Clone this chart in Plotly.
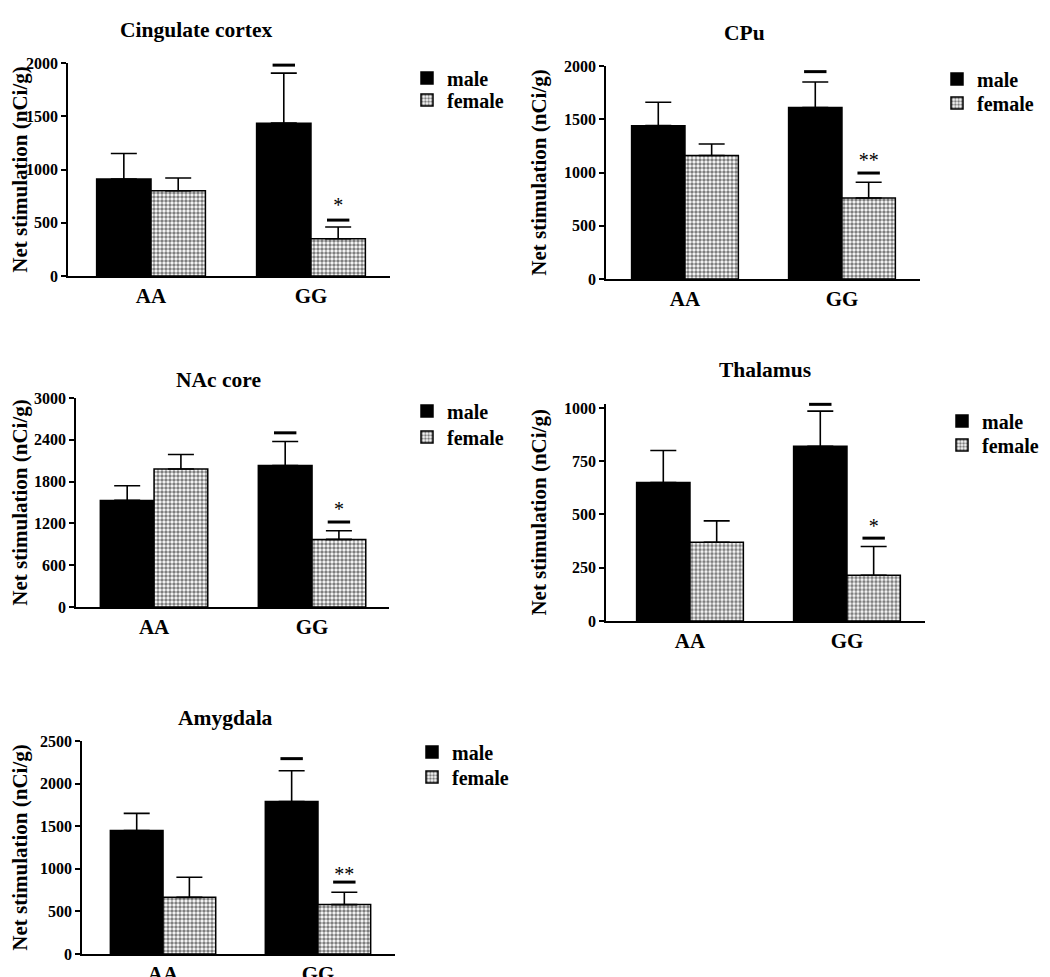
import plotly.graph_objects as go

genotypes = ["AA", "GG"]
series_names = ["male", "female"]

# Cingulate cortex
cing_male = [910, 1435]
cing_male_err = [240, 470]
cing_female = [800, 350]
cing_female_err = [120, 110]
cing_sig_male = 1980
cing_sig_female = 525
cing_star = "*"
cing_star_y = 645

# CPu
cpu_male = [1440, 1610]
cpu_male_err = [220, 240]
cpu_female = [1160, 760]
cpu_female_err = [108, 148]
cpu_sig_male = 1947
cpu_sig_female = 995
cpu_star = "**"
cpu_star_y = 1095

# NAc core
nac_male = [1530, 2030]
nac_male_err = [210, 345]
nac_female = [1980, 970]
nac_female_err = [210, 125]
nac_sig_male = 2500
nac_sig_female = 1220
nac_star = "*"
nac_star_y = 1385

# Thalamus
thal_male = [650, 820]
thal_male_err = [150, 165]
thal_female = [370, 215]
thal_female_err = [100, 135]
thal_sig_male = 1017
thal_sig_female = 389
thal_star = "*"
thal_star_y = 438

# Amygdala
amy_male = [1450, 1790]
amy_male_err = [200, 360]
amy_female = [665, 580]
amy_female_err = [235, 145]
amy_sig_male = 2293
amy_sig_female = 844
amy_star = "**"
amy_star_y = 912

# layout geometry (screen pixels of the reference)
panels = [
    dict(title="Cingulate cortex", male=cing_male, male_err=cing_male_err, female=cing_female,
         female_err=cing_female_err, sig_m=cing_sig_male, sig_f=cing_sig_female, star=cing_star,
         star_y=cing_star_y, ymax=2000, ytop=2000, dtick=500,
         px=(68, 390), py=(63, 276), xr=(-0.519, 1.494), title_x=0.398, title_shift=33,
         leg_x=427, leg_y=(78, 100)),
    dict(title="CPu", male=cpu_male, male_err=cpu_male_err, female=cpu_female,
         female_err=cpu_female_err, sig_m=cpu_sig_male, sig_f=cpu_sig_female, star=cpu_star,
         star_y=cpu_star_y, ymax=2000, ytop=2000, dtick=500,
         px=(606, 920), py=(66, 279), xr=(-0.503, 1.497), title_x=0.44, title_shift=33,
         leg_x=957, leg_y=(79, 103)),
    dict(title="NAc core", male=nac_male, male_err=nac_male_err, female=nac_female,
         female_err=nac_female_err, sig_m=nac_sig_male, sig_f=nac_sig_female, star=nac_star,
         star_y=nac_star_y, ymax=3000, ytop=3000, dtick=600,
         px=(76, 389), py=(398, 607), xr=(-0.494, 1.487), title_x=0.454, title_shift=18,
         leg_x=427, leg_y=(411, 437)),
    dict(title="Thalamus", male=thal_male, male_err=thal_male_err, female=thal_female,
         female_err=thal_female_err, sig_m=thal_sig_male, sig_f=thal_sig_female, star=thal_star,
         star_y=thal_star_y, ymax=1000, ytop=1020, dtick=250,
         px=(606, 925), py=(403.7, 621), xr=(-0.535, 1.497), title_x=0.498, title_shift=34,
         leg_x=962, leg_y=(421, 445)),
    dict(title="Amygdala", male=amy_male, male_err=amy_male_err, female=amy_female,
         female_err=amy_female_err, sig_m=amy_sig_male, sig_f=amy_sig_female, star=amy_star,
         star_y=amy_star_y, ymax=2500, ytop=2500, dtick=500,
         px=(82, 395), py=(741, 954), xr=(-0.523, 1.497), title_x=0.46, title_shift=23,
         leg_x=432, leg_y=(752, 777)),
]

W, H = 1050, 977
OFF = 8  # page body margin
FONT = "Liberation Serif"
BAR_W = 0.34
cat_idx = list(range(len(genotypes)))


def fx(px):
    return (px - OFF) / W


def fy(py):
    return 1 - (py - OFF) / H


fig = go.Figure()
layout = dict(
    width=W, height=H, margin=dict(l=0, r=0, t=0, b=0, autoexpand=False),
    paper_bgcolor="white", plot_bgcolor="white",
    font=dict(family=FONT, color="black"),
    barmode="overlay", showlegend=True,
)
annotations = []
leg_count = 0

for i, p in enumerate(panels):
    n = i + 1
    xa = "x" if n == 1 else f"x{n}"
    ya = "y" if n == 1 else f"y{n}"
    leg_ids = []
    for k in range(2):
        leg_count += 1
        leg_ids.append("legend" if leg_count == 1 else f"legend{leg_count}")
    xm = [c - BAR_W / 2 for c in cat_idx]
    xf = [c + BAR_W / 2 for c in cat_idx]

    fig.add_trace(go.Bar(
        x=xm, y=p["male"], width=BAR_W, name=series_names[0], xaxis=xa, yaxis=ya, legend=leg_ids[0],
        marker=dict(color="black", line=dict(color="black", width=1.5)),
        error_y=dict(type="data", array=p["male_err"], arrayminus=[0] * 2, symmetric=False,
                     color="black", thickness=1.6, width=13),
    ))
    fig.add_trace(go.Bar(
        x=xf, y=p["female"], width=BAR_W, name=series_names[1], xaxis=xa, yaxis=ya, legend=leg_ids[1],
        marker=dict(color="white", line=dict(color="black", width=1.5),
                    pattern=dict(shape=".", fgcolor="black", bgcolor="white", size=4, solidity=0.6,
                                 fillmode="overlay")),
        error_y=dict(type="data", array=p["female_err"], arrayminus=[0] * 2, symmetric=False,
                     color="black", thickness=1.6, width=13),
    ))
    # significance bars (GG only)
    fig.add_trace(go.Scatter(
        x=[xm[1], xf[1]], y=[p["sig_m"], p["sig_f"]], mode="markers", xaxis=xa, yaxis=ya,
        showlegend=False, cliponaxis=False, hoverinfo="skip",
        marker=dict(symbol="line-ew", size=16, color="black", line=dict(color="black", width=3)),
    ))
    fig.add_trace(go.Scatter(
        x=[xf[1]], y=[p["star_y"]], mode="text", text=[p["star"]], xaxis=xa, yaxis=ya,
        showlegend=False, cliponaxis=False, hoverinfo="skip",
        textfont=dict(family=FONT, size=20, color="black"),
    ))

    x0, x1 = p["px"]
    yt, yb = p["py"]
    layout[f"xaxis{'' if n == 1 else n}"] = dict(
        domain=[fx(x0), fx(x1)], anchor=ya, range=list(p["xr"]), automargin=False,
        tickvals=cat_idx, ticktext=genotypes, ticks="", showgrid=False, zeroline=False,
        showline=True, linecolor="black", linewidth=1.6,
        tickfont=dict(family=FONT, size=21, color="black", weight="bold"),
    )
    layout[f"yaxis{'' if n == 1 else n}"] = dict(
        domain=[fy(yb), fy(yt)], anchor=xa, range=[0, p["ytop"]],
        tickvals=list(range(0, p["ymax"] + 1, p["dtick"])), automargin=False,
        ticks="outside", ticklen=5, tickwidth=1.5, tickcolor="black",
        showgrid=False, zeroline=False, showline=True, linecolor="black", linewidth=1.6,
        tickfont=dict(family=FONT, size=16, color="black", weight="bold"),
        title=dict(text="Net stimulation (nCi/g)", standoff=12,
                   font=dict(family=FONT, size=21, color="black", weight="bold")),
    )
    for k in range(2):
        layout[leg_ids[k]] = dict(
            x=fx(p["leg_x"] - 20), y=fy(p["leg_y"][k]), xanchor="left", yanchor="middle",
            xref="paper", yref="paper",
            bgcolor="rgba(0,0,0,0)", borderwidth=0, tracegroupgap=0,
            font=dict(family=FONT, size=20, color="black", weight="bold"),
        )
    annotations.append(dict(
        text=p["title"], xref=f"{xa} domain", yref=f"{ya} domain", x=p["title_x"], y=1,
        xanchor="center", yanchor="middle", yshift=p["title_shift"], showarrow=False,
        font=dict(family=FONT, size=21.5, color="black", weight="bold"),
    ))

layout["annotations"] = annotations
fig.update_layout(**layout)
fig.write_html("out.html")
